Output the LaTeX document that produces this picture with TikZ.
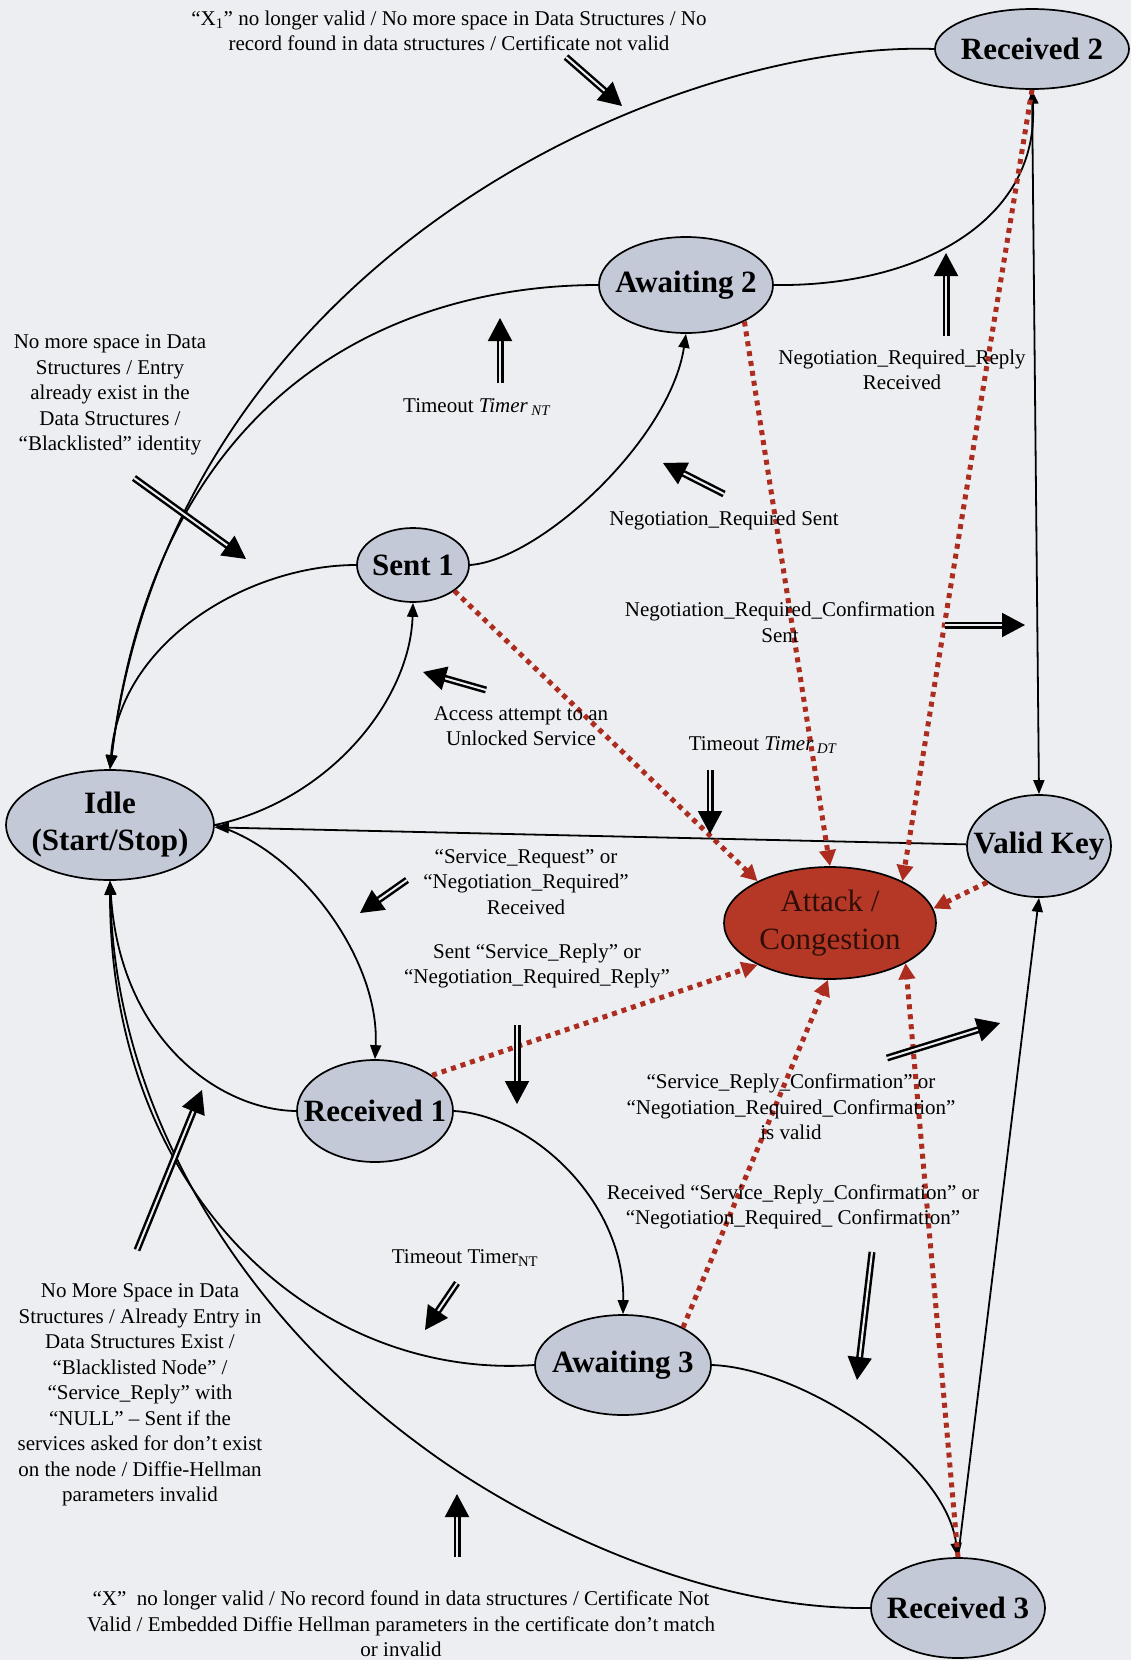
\documentclass[tikz,border=0pt]{standalone}
\usepackage{fontspec}
\setmainfont{Liberation Serif}
\usetikzlibrary{arrows.meta,shapes.geometric}
\definecolor{bgc}{RGB}{236,238,241}
\definecolor{statefill}{RGB}{196,201,215}
\definecolor{attackfill}{RGB}{181,56,38}
\definecolor{attacktext}{RGB}{48,14,8}
\definecolor{reddot}{RGB}{172,44,32}

\begin{document}
\begin{tikzpicture}[x=1pt,y=-1pt,
  state/.style={ellipse, draw=black, line width=1.7pt, fill=statefill, inner sep=0pt},
  statetext/.style={font=\fontsize{31}{37}\selectfont\bfseries, align=center, inner sep=0pt},
  lbl/.style={font=\fontsize{21}{25.5}\selectfont, align=center, inner sep=0pt},
  edge/.style={line width=1.8pt, -{Triangle[length=14pt,width=11pt]}},
  attackedge/.style={draw=reddot, line width=5pt, dash pattern=on 5pt off 5pt,
    -{Triangle[length=16pt,width=16pt,fill=reddot]}},
  hintouter/.style={line width=7pt, shorten >=20pt},
  hintinner/.style={draw=bgc, line width=2pt,
    -{Triangle[length=23pt,width=24pt,color=black,fill=black]}}
]
% canvas
\fill[bgc] (0,0) rectangle (1131,1660);
\useasboundingbox (0,0) rectangle (1131,1660);

% states
\node[state, minimum width=194pt, minimum height=80pt]  (R2)   at (1032,49)  {};
\node[state, minimum width=174pt, minimum height=96pt]  (A2)   at (686,285)  {};
\node[state, minimum width=112pt, minimum height=74pt]  (S1)   at (413,565)  {};
\node[state, minimum width=208pt, minimum height=110pt] (Idle) at (110,825)  {};
\node[state, minimum width=144pt, minimum height=102pt] (VK)   at (1039,846) {};
\node[state, fill=attackfill, minimum width=212pt, minimum height=112pt] (Att) at (830,923) {};
\node[state, minimum width=156pt, minimum height=102pt] (R1)   at (375,1111) {};
\node[state, minimum width=176pt, minimum height=100pt] (A3)   at (623,1365) {};
\node[state, minimum width=174pt, minimum height=100pt] (R3)   at (958,1608) {};

% state names
\node[statetext] (R2t)   at (R2)   {Received 2};
\node[statetext] (A2t)   at (A2)   {Awaiting 2};
\node[statetext] (S1t)   at (S1)   {Sent 1};
\node[statetext] (Idlet) at (Idle) {Idle\\(Start/Stop)};
\node[statetext] (VKt)   at (VK)   {Valid Key};
\node[font=\fontsize{31}{38}\selectfont, text=attacktext, align=center, inner sep=0pt] (Attt) at (Att) {Attack /\\Congestion};
\node[statetext] (R1t)   at (R1)   {Received 1};
\node[statetext] (A3t)   at (A3)   {Awaiting 3};
\node[statetext] (R3t)   at (R3)   {Received 3};

% transitions
\coordinate (r3bend) at (420,1445);
\draw[edge] (R2.west) .. controls (680,40) and (175,250) .. (Idle.north);
\draw[edge] (A2.west) .. controls (430,285) and (160,360) .. (Idle.north);
\draw[edge] (S1.west) .. controls (250,565) and (120,640) .. (Idle.north);
\draw[edge] (Idle.east) .. controls (330,800) and (410,700) .. (S1.south);
\draw[edge] (VK) -- (Idle);
\draw[edge] (Idle.east) .. controls (300,850) and (380,960) .. (R1.north);
\draw[edge] (R1.west) .. controls (220,1110) and (120,1040) .. (Idle.south);
\draw[edge] (A3.west) .. controls (320,1380) and (110,1200) .. (Idle.south);
\draw[edge] (R3.west) .. controls (700,1610) and (520,1520) .. (r3bend)
            .. controls (250,1320) and (115,1120) .. (Idle.south);
\draw[edge] (R1.east) .. controls (530,1115) and (625,1200) .. (A3.north);
\draw[edge] (A3.east) .. controls (800,1368) and (945,1460) .. (R3.north);
\draw[edge] (R3.north) -- (VK.south);
\draw[edge] (R2.south) -- (VK.north);
\draw[edge] (S1.east) .. controls (540,560) and (670,440) .. (A2.south);
\draw[edge] (A2.east) .. controls (920,287) and (1040,220) .. (R2.south);

% transitions into the attack state
\draw[attackedge] (S1.-32) -- (Att.150);
\draw[attackedge] (A2.-32) -- (Att.90);
\draw[attackedge] (R2.south) -- (Att.30);
\draw[attackedge] (VK.215) -- (Att.8);
\draw[attackedge] (R1.32) -- (Att.210);
\draw[attackedge] (A3.32) -- (Att.268);
\draw[attackedge] (R3.north) -- (Att.-28);

% pointer arrows from labels to their transitions
\coordinate (pa1) at (566,57);   \coordinate (pa2) at (622,106);
\coordinate (pb1) at (500,383);  \coordinate (pb2) at (500,318);
\coordinate (pc1) at (946,336);  \coordinate (pc2) at (946,253);
\coordinate (pd1) at (134,478);  \coordinate (pd2) at (246,559);
\coordinate (pe1) at (724,494);  \coordinate (pe2) at (663,463);
\coordinate (pf1) at (945,625);  \coordinate (pf2) at (1025,625);
\coordinate (pg1) at (486,690);  \coordinate (pg2) at (423,672);
\coordinate (ph1) at (710,770);  \coordinate (ph2) at (710,834);
\coordinate (pi1) at (407,880);  \coordinate (pi2) at (360,913);
\coordinate (pj1) at (517,1025); \coordinate (pj2) at (517,1104);
\coordinate (pk1) at (887,1058); \coordinate (pk2) at (1000,1023);
\coordinate (pl1) at (137,1250); \coordinate (pl2) at (202,1090);
\coordinate (pm1) at (457,1283); \coordinate (pm2) at (425,1330);
\coordinate (pn1) at (872,1252); \coordinate (pn2) at (857,1380);
\coordinate (po1) at (457,1557); \coordinate (po2) at (457,1494);
\foreach \p in {a,b,c,d,e,f,g,h,i,j,k,l,m,n,o}{
  \draw[hintouter] (p\p1) -- (p\p2);
  \draw[hintinner] (p\p1) -- (p\p2);
}

% transition labels
\node[lbl] (L1) at (449,31) {“X\textsubscript{1}” no longer valid / No more space in Data Structures / No\\record found in data structures / Certificate not valid};
\node[lbl] (L2) at (110,395) {No more space in Data\\Structures / Entry\\already exist in the\\Data Structures /\\“Blacklisted” identity};
\node[lbl] (L3) at (477,407) {Timeout \textit{Timer}\,\textsubscript{\textit{NT}}};
\node[lbl] (L4) at (902,370) {Negotiation\_Required\_Reply\\Received};
\node[lbl] (L5) at (724,520) {Negotiation\_Required Sent};
\node[lbl] (L6) at (780,622) {Negotiation\_Required\_Confirmation\\Sent};
\node[lbl] (L7) at (521,726) {Access attempt to an\\Unlocked Service};
\node[lbl] (L8) at (763,745) {Timeout \textit{Timer}\,\textsubscript{\textit{DT}}};
\node[lbl] (L9) at (526,882) {“Service\_Request” or\\“Negotiation\_Required”\\Received};
\node[lbl] (L10) at (537,966) {Sent “Service\_Reply” or\\“Negotiation\_Required\_Reply”};
\node[lbl] (L11) at (791,1107) {“Service\_Reply\_Confirmation” or\\“Negotiation\_Required\_Confirmation”\\is valid};
\node[lbl] (L12) at (793,1207) {Received “Service\_Reply\_Confirmation” or\\“Negotiation\_Required\_ Confirmation”};
\node[lbl] (L13) at (465,1258) {Timeout Timer\textsubscript{NT}};
\node[lbl] (L14) at (140,1395) {No More Space in Data\\Structures / Already Entry in\\Data Structures Exist /\\“Blacklisted Node” /\\“Service\_Reply” with\\“NULL” – Sent if the\\services asked for don’t exist\\on the node / Diffie-Hellman\\parameters invalid};
\node[lbl] (L15) at (401,1624) {“X”\ \ no longer valid / No record found in data structures / Certificate Not\\Valid / Embedded Diffie Hellman parameters in the certificate don’t match\\or invalid};
\end{tikzpicture}
\end{document}
